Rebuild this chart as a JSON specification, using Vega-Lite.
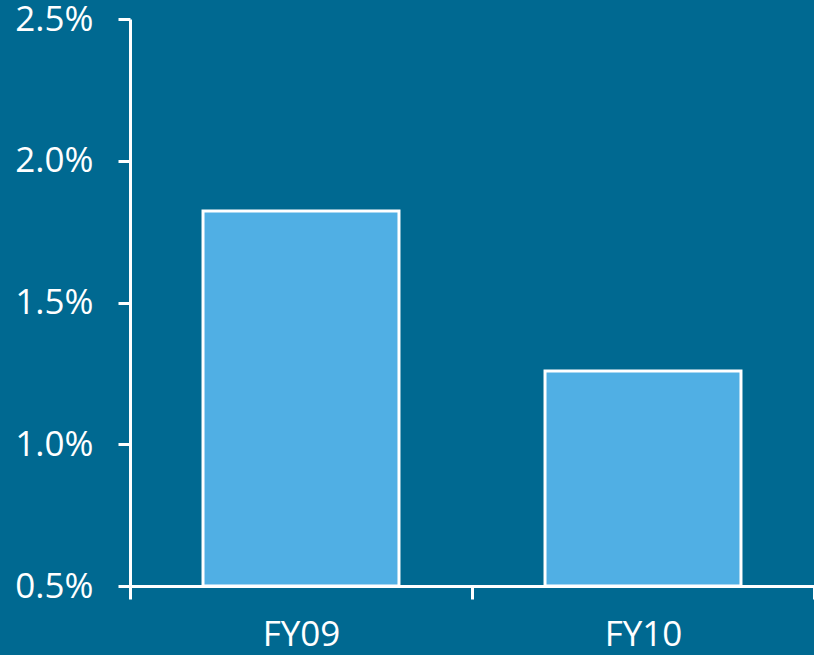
{
  "$schema": "https://vega.github.io/schema/vega-lite/v6.json",
  "autosize": "none",
  "width": 684,
  "height": 567,
  "padding": {"left": 130, "top": 19, "right": 0, "bottom": 69},
  "background": "#006991",
  "config": {"view": {"stroke": null}},
  "data": {"values": [
    {"year": "FY09", "value": 0.01823},
    {"year": "FY10", "value": 0.01258}
  ]},
  "mark": {"type": "bar", "fill": "#50AFE4", "stroke": "#ffffff", "strokeWidth": 3, "width": {"band": 0.573}},
  "encoding": {
    "x": {
      "field": "year", "type": "nominal",
      "scale": {"paddingInner": 0, "paddingOuter": 0},
      "axis": {
        "title": null, "labelAngle": 0, "tickBand": "extent",
        "domainColor": "#ffffff", "domainWidth": 3,
        "tickColor": "#ffffff", "tickWidth": 3, "tickSize": 13,
        "labelColor": "#ffffff", "labelFont": "Open Sans", "labelFontSize": 35,
        "labelPadding": 18
      }
    },
    "y": {
      "field": "value", "type": "quantitative",
      "scale": {"domain": [0.005, 0.025], "zero": false, "nice": false},
      "axis": {
        "title": null, "values": [0.005, 0.01, 0.015, 0.02, 0.025], "format": ".1%",
        "grid": false,
        "domainColor": "#ffffff", "domainWidth": 3,
        "tickColor": "#ffffff", "tickWidth": 3, "tickSize": 12,
        "labelColor": "#ffffff", "labelFont": "Open Sans", "labelFontSize": 35,
        "labelPadding": 25
      }
    },
    "y2": {"datum": 0.005}
  }
}
